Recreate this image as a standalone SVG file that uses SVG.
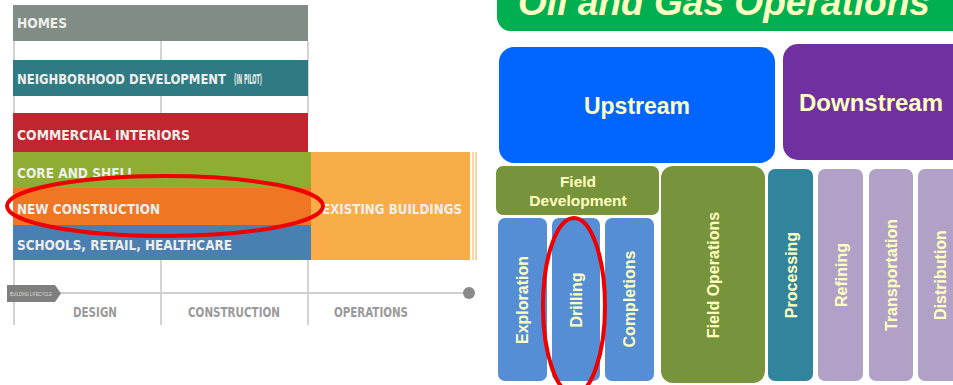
<svg xmlns="http://www.w3.org/2000/svg" width="953" height="385" viewBox="0 0 953 385">
  <defs>
    <style>
      .band { font-family: "DejaVu Sans Condensed", "Liberation Sans Narrow", "Liberation Sans", sans-serif; font-weight: bold; font-size: 14px; fill: #eeeeea; }
      .phase { font-family: "DejaVu Sans Condensed", "Liberation Sans", sans-serif; font-weight: bold; font-size: 14px; fill: #9a9a9a; }
      .grid { stroke: #d4d4d4; stroke-width: 2; fill: none; }
      .lbl { font-family: "Liberation Sans", Arial, sans-serif; font-weight: bold; fill: #ffffc0; text-anchor: middle; }
      .vt { font-size: 16px; }
      .hl { fill: none; stroke: #ee0000; stroke-width: 4; }
    </style>
  </defs>

  <!-- Building lifecycle chart -->
  <g id="lifecycle">
    <line class="grid" x1="14" y1="41" x2="14" y2="325"/>
    <line class="grid" x1="161" y1="41" x2="161" y2="113"/>
    <line class="grid" x1="308" y1="41" x2="308" y2="113"/>
    <line class="grid" x1="161" y1="260" x2="161" y2="325"/>
    <line class="grid" x1="308" y1="260" x2="308" y2="325"/>

    <g id="homes">
      <rect x="13" y="5" width="295" height="36" fill="#818c85"/>
      <text class="band" x="17" y="28" textLength="50" lengthAdjust="spacingAndGlyphs">HOMES</text>
    </g>
    <g id="neighborhood">
      <rect x="13" y="60" width="295" height="36" fill="#2f7b84"/>
      <text class="band" x="17" y="84" font-size="13" textLength="209" lengthAdjust="spacingAndGlyphs">NEIGHBORHOOD DEVELOPMENT</text>
      <text class="band" x="234" y="84" font-size="7" textLength="28" lengthAdjust="spacingAndGlyphs">(IN PILOT)</text>
    </g>
    <g id="commercial">
      <rect x="13" y="113" width="295" height="39" fill="#bf2631"/>
      <text class="band" x="17" y="140" textLength="173" lengthAdjust="spacingAndGlyphs">COMMERCIAL INTERIORS</text>
    </g>
    <g id="existing">
      <rect x="308" y="152" width="162" height="108" fill="#f9ad48"/>
      <line x1="473" y1="152" x2="473" y2="260" stroke="#f9c98a" stroke-width="1.5"/>
      <line x1="476" y1="152" x2="476" y2="260" stroke="#f9c98a" stroke-width="1.5"/>
      <text class="band" x="322" y="214" textLength="140" lengthAdjust="spacingAndGlyphs">EXISTING BUILDINGS</text>
    </g>
    <g id="core-shell">
      <rect x="13" y="152" width="298" height="36" fill="#8fad30"/>
      <text class="band" x="17" y="178" textLength="118" lengthAdjust="spacingAndGlyphs">CORE AND SHELL</text>
    </g>
    <g id="new-construction">
      <rect x="13" y="188" width="298" height="37" fill="#f07624"/>
      <text class="band" x="17" y="214" textLength="143" lengthAdjust="spacingAndGlyphs">NEW CONSTRUCTION</text>
    </g>
    <g id="schools">
      <rect x="13" y="225" width="298" height="35" fill="#4a7fb2"/>
      <text class="band" x="17" y="250" textLength="215" lengthAdjust="spacingAndGlyphs">SCHOOLS, RETAIL, HEALTHCARE</text>
    </g>

    <g id="timeline">
      <line x1="55" y1="293" x2="468" y2="293" stroke="#d0d0d0" stroke-width="2"/>
      <circle cx="469" cy="293" r="6" fill="#8a8a8a"/>
      <polygon points="7,285 55,285 61,293.5 55,302 7,302" fill="#7f7f7f"/>
      <text x="10" y="296" font-family="Liberation Sans, sans-serif" font-size="5" fill="#dddddd" textLength="42" lengthAdjust="spacingAndGlyphs">BUILDING LIFECYCLE</text>
      <text class="phase" x="73" y="317" textLength="44" lengthAdjust="spacingAndGlyphs">DESIGN</text>
      <text class="phase" x="188" y="317" textLength="92" lengthAdjust="spacingAndGlyphs">CONSTRUCTION</text>
      <text class="phase" x="334" y="317" textLength="74" lengthAdjust="spacingAndGlyphs">OPERATIONS</text>
    </g>
  </g>

  <!-- Oil and gas operations -->
  <g id="title">
    <rect x="497" y="-30" width="480" height="61" rx="14" fill="#00b050"/>
    <text class="lbl" x="724" y="15" font-size="36" font-style="italic" textLength="412" lengthAdjust="spacingAndGlyphs">Oil and Gas Operations</text>
  </g>
  <g id="upstream">
    <rect x="499" y="47" width="276" height="116" rx="15" fill="#0066ff"/>
    <text class="lbl" x="637" y="114" font-size="23">Upstream</text>
  </g>
  <g id="downstream">
    <rect x="783" y="44" width="190" height="116" rx="15" fill="#7030a0"/>
    <text class="lbl" x="871" y="111" font-size="24">Downstream</text>
  </g>
  <g id="field-development">
    <rect x="496" y="166" width="163" height="49" rx="7" fill="#77933c"/>
    <text class="lbl" x="578" y="187" font-size="15.5">Field</text>
    <text class="lbl" x="578" y="206" font-size="15.5">Development</text>
  </g>
  <g id="exploration">
    <rect x="498" y="218" width="49" height="163" rx="7" fill="#558ed5"/>
    <text class="lbl vt" transform="translate(528,300) rotate(-90)">Exploration</text>
  </g>
  <g id="drilling">
    <rect x="552" y="218" width="48" height="163" rx="7" fill="#558ed5"/>
    <text class="lbl vt" transform="translate(582,300) rotate(-90)">Drilling</text>
  </g>
  <g id="completions">
    <rect x="605" y="218" width="49" height="163" rx="7" fill="#558ed5"/>
    <text class="lbl vt" transform="translate(635,299) rotate(-90)">Completions</text>
  </g>
  <g id="field-operations">
    <rect x="661" y="166" width="104" height="217" rx="12" fill="#77933c"/>
    <text class="lbl vt" transform="translate(719,275) rotate(-90)">Field Operations</text>
  </g>
  <g id="processing">
    <rect x="768" y="169" width="45" height="212" rx="7" fill="#31849b"/>
    <text class="lbl vt" transform="translate(797,275) rotate(-90)">Processing</text>
  </g>
  <g id="refining">
    <rect x="818" y="169" width="45" height="212" rx="7" fill="#b2a1c7"/>
    <text class="lbl vt" transform="translate(847,275) rotate(-90)">Refining</text>
  </g>
  <g id="transportation">
    <rect x="869" y="169" width="44" height="212" rx="7" fill="#b2a1c7"/>
    <text class="lbl vt" transform="translate(897,275) rotate(-90)">Transportation</text>
  </g>
  <g id="distribution">
    <rect x="918" y="169" width="50" height="212" rx="7" fill="#b2a1c7"/>
    <text class="lbl vt" transform="translate(946,275) rotate(-90)">Distribution</text>
  </g>

  <!-- Highlight rings -->
  <g id="connectors">
    <ellipse class="hl" cx="165" cy="206" rx="158" ry="30"/>
    <ellipse class="hl" cx="574" cy="306" rx="31" ry="88"/>
  </g>
</svg>
